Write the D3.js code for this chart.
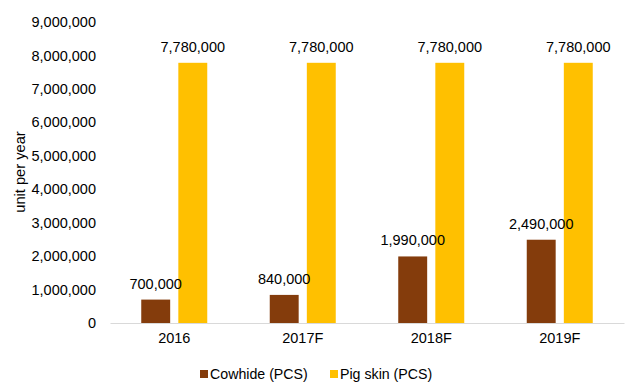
<!DOCTYPE html>
<html>
<head>
<meta charset="utf-8">
<script src="https://cdn.jsdelivr.net/npm/d3@7"></script>
<style>
  body { margin: 0; background: #fff; }
  svg { font-family: "Liberation Sans", Arial, sans-serif; display: block; }
</style>
</head>
<body>
<div></div>
<script>
const categories = ["2016", "2017F", "2018F", "2019F"];
const seriesNames = ["Cowhide (PCS)", "Pig skin (PCS)"];
const cowhide = [700000, 840000, 1990000, 2490000];
const pigSkin = [7780000, 7780000, 7780000, 7780000];
const yTicks = [0, 1000000, 2000000, 3000000, 4000000, 5000000, 6000000, 7000000, 8000000, 9000000];
const colors = ["#843C0C", "#FFC000"];

const width = 627, height = 383;
const margin = { top: 22, right: 3, bottom: 60, left: 110 };
const innerWidth = width - margin.left - margin.right;
const innerHeight = height - margin.top - margin.bottom;
const fontSize = 14.5;

const data = categories.map((c, i) => ({ cat: c, values: [cowhide[i], pigSkin[i]] }));

const xScale = d3.scaleBand().domain(categories).range([0, innerWidth]);
const xInner = d3.scaleBand().domain([0, 1]).range([xScale.bandwidth() / 2 - 33, xScale.bandwidth() / 2 + 33]).paddingInner(0.22);
const yScale = d3.scaleLinear().domain([0, 9000000]).range([innerHeight, 0]);
const fmt = d3.format(",");

const svg = d3.select("div").append("svg").attr("width", width).attr("height", height);
const chart = svg.append("g").attr("transform", `translate(${margin.left},${margin.top})`);

// y axis labels only, no line
const yAxis = d3.axisLeft(yScale).tickValues(yTicks).tickFormat(fmt).tickSize(0).tickPadding(14);
chart.append("g").call(yAxis)
  .call(g => g.select(".domain").remove())
  .call(g => g.selectAll("text").attr("font-size", fontSize).attr("fill", "#000").attr("font-family", "Liberation Sans, Arial, sans-serif"));

// bars
const groups = chart.selectAll(".grp").data(data).enter().append("g")
  .attr("transform", d => `translate(${xScale(d.cat)},0)`);

groups.selectAll("rect").data(d => d.values.map((v, k) => ({ v, k }))).enter().append("rect")
  .attr("x", d => xInner(d.k))
  .attr("width", xInner.bandwidth())
  .attr("y", d => yScale(d.v))
  .attr("height", d => innerHeight - yScale(d.v))
  .attr("fill", d => colors[d.k]);

groups.selectAll("text.val").data(d => d.values.map((v, k) => ({ v, k }))).enter().append("text")
  .attr("class", "val")
  .attr("x", d => xInner(d.k) + xInner.bandwidth() / 2)
  .attr("y", d => yScale(d.v) - 11)
  .attr("text-anchor", "middle")
  .attr("font-size", fontSize)
  .attr("fill", "#000")
  .text(d => fmt(d.v));

// x axis
const xAxis = d3.axisBottom(xScale).tickSize(0).tickPadding(10);
chart.append("g").attr("transform", `translate(0,${innerHeight})`).call(xAxis)
  .call(g => g.select(".domain").attr("stroke", "#d9d9d9").attr("stroke-width", 1))
  .call(g => g.selectAll("text").attr("font-size", fontSize).attr("fill", "#000").attr("font-family", "Liberation Sans, Arial, sans-serif"));

// y axis title
svg.append("text")
  .attr("transform", `translate(25,172) rotate(-90)`)
  .attr("text-anchor", "middle")
  .attr("font-size", 14.67)
  .attr("fill", "#000")
  .text("unit per year");

// legend
const legendX = [200, 330];
const legend = svg.selectAll(".leg").data(seriesNames).enter().append("g")
  .attr("transform", (d, i) => `translate(${legendX[i]},370)`);
legend.append("rect").attr("width", 8).attr("height", 8).attr("fill", (d, i) => colors[i]);
legend.append("text").attr("x", 10).attr("y", 9).attr("font-size", 14.2).attr("fill", "#000").text(d => d);
</script>
</body>
</html>
